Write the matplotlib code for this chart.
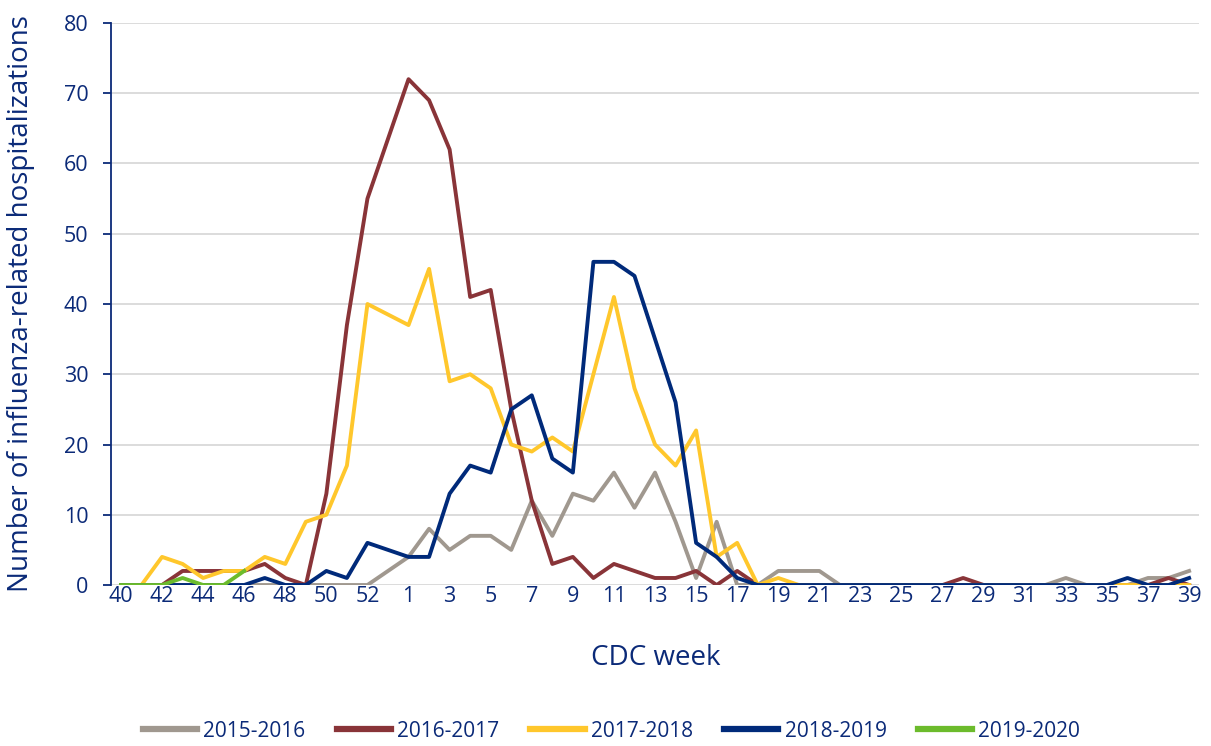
import numpy as np
import matplotlib
matplotlib.use("Agg")
import matplotlib.pyplot as plt

nan = np.nan

# CDC weeks 40..53 then 1..39 (week 53 has no data, lines run through it)
weeks = list(range(40, 54)) + list(range(1, 40))

s2015 = [0, 0, 0, 0, 0, 0, 0, 0, 0, 0, 0, 0, 0, nan,
         4, 8, 5, 7, 7, 5, 12, 7, 13, 12, 16, 11, 16, 9, 1, 9, 0, 0, 2, 2, 2,
         0, 0, 0, 0, 0, 0, 0, 0, 0, 0, 0, 1, 0, 0, 0, 1, 1, 2]
s2016 = [0, 0, 0, 2, 2, 2, 2, 3, 1, 0, 13, 37, 55, nan,
         72, 69, 62, 41, 42, 25, 12, 3, 4, 1, 3, 2, 1, 1, 2, 0, 2, 0, 0, 0, 0,
         0, 0, 0, 0, 0, 0, 1, 0, 0, 0, 0, 0, 0, 0, 0, 0, 1, 0]
s2017 = [0, 0, 4, 3, 1, 2, 2, 4, 3, 9, 10, 17, 40, nan,
         37, 45, 29, 30, 28, 20, 19, 21, 19, 30, 41, 28, 20, 17, 22, 4, 6, 0, 1, 0, 0,
         0, 0, 0, 0, 0, 0, 0, 0, 0, 0, 0, 0, 0, 0, 0, 0, 0, 0]
s2018 = [0, 0, 0, 0, 0, 0, 0, 1, 0, 0, 2, 1, 6, nan,
         4, 4, 13, 17, 16, 25, 27, 18, 16, 46, 46, 44, 35, 26, 6, 4, 1, 0, 0, 0, 0,
         0, 0, 0, 0, 0, 0, 0, 0, 0, 0, 0, 0, 0, 0, 1, 0, 0, 1]
s2019 = [0, 0, 0, 1, 0, 0, 2]

seasons = ["2015-2016", "2016-2017", "2017-2018", "2018-2019", "2019-2020"]
series = [s2015, s2016, s2017, s2018, s2019]
colors = ["#A0988F", "#893438", "#FFC72C", "#002A7A", "#6CBB2C"]

navy = "#0B2A78"
plt.rcParams['font.family'] = ['Open Sans', 'DejaVu Sans']

fig = plt.figure(figsize=(12.11, 7.46), dpi=100)
ax = fig.add_axes([0.0914, 0.2158, 0.899, 0.7534])

x = np.arange(len(weeks))
for name, vals, c in zip(seasons, series, colors):
    y = np.array(vals, dtype=float)
    xx = x[:len(y)]
    m = ~np.isnan(y)
    ax.plot(xx[m], y[m], color=c, lw=2.8, label=name)

ax.set_xlim(-0.5, 52.5)
ax.set_ylim(0, 80)
ax.set_yticks(range(0, 81, 10))
tick_idx = list(range(0, len(weeks), 2))
ax.set_xticks(tick_idx)
ax.set_xticklabels([str(weeks[i]) for i in tick_idx])

ax.grid(axis='y', color='#D9D9D9', lw=1.3)
ax.set_axisbelow(True)
for s in ['top', 'right', 'bottom']:
    ax.spines[s].set_visible(False)
ax.spines['left'].set_color(navy)
ax.spines['left'].set_linewidth(1.3)
ax.tick_params(axis='y', colors=navy, labelsize=15.5, length=6, width=1.3, pad=10)
ax.tick_params(axis='x', colors=navy, labelsize=15.5, length=0, pad=1)

ax.set_ylabel("Number of influenza-related hospitalizations", color=navy, fontsize=20)
ax.yaxis.set_label_coords(-0.0827, 0.5)
ax.yaxis.label.set_va('center')
ax.set_xlabel("CDC week", color=navy, fontsize=20)
ax.xaxis.set_label_coords(0.5006, -0.13)
ax.xaxis.label.set_va('center')

leg = fig.legend(loc='center', bbox_to_anchor=(0.505, 0.02), ncol=5, frameon=False,
                 fontsize=15, handlelength=2.6, handletextpad=0.3, columnspacing=1.5)
for t in leg.get_texts():
    t.set_color(navy)
for h in leg.get_lines():
    h.set_linewidth(4.5)

fig.savefig("out.png", dpi=100)
